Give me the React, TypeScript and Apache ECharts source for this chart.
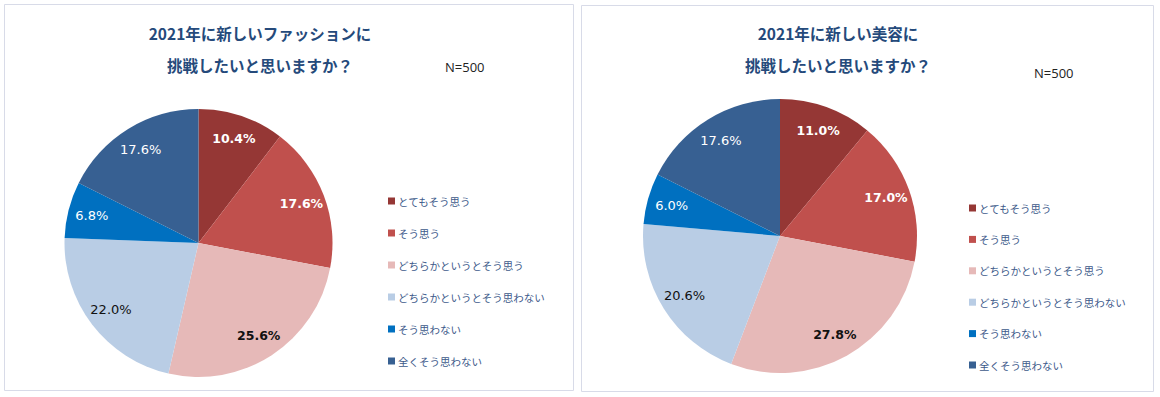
import React, { useEffect, useRef } from "react";
import * as echarts from "echarts";

const categories = [
  "とてもそう思う",
  "そう思う",
  "どちらかというとそう思う",
  "どちらかというとそう思わない",
  "そう思わない",
  "全くそう思わない",
];
const fashionValues = [10.4, 17.6, 25.6, 22.0, 6.8, 17.6];
const beautyValues = [11.0, 17.0, 27.8, 20.6, 6.0, 17.6];
const sliceColors = ["#953735", "#c0504d", "#e6b9b8", "#b9cde5", "#0070c0", "#376092"];
const labelColors = ["#ffffff", "#ffffff", "#111111", "#111111", "#ffffff", "#ffffff"];
const labelWeights = ["bold", "bold", "bold", "normal", "normal", "normal"];
const titleFashion = "2021年に新しいファッションに\n挑戦したいと思いますか？";
const titleBeauty = "2021年に新しい美容に\n挑戦したいと思いますか？";
const sampleText = "N=500";

const FONT = "'Noto Sans CJK JP', 'Noto Sans', sans-serif";
const NUMFONT = "'DejaVu Sans', Verdana, sans-serif";

function buildSeries(values: number[], center: [number, number], r: number) {
  const main = {
    type: "pie",
    center,
    radius: [0, r],
    startAngle: 90,
    clockwise: true,
    label: { show: false },
    labelLine: { show: false },
    silent: true,
    data: values.map((v, i) => ({
      name: categories[i],
      value: v,
      itemStyle: { color: sliceColors[i] },
    })),
  };
  const labels = {
    type: "pie",
    center,
    radius: [r * 0.6, r],
    startAngle: 90,
    clockwise: true,
    silent: true,
    legendHoverLink: false,
    itemStyle: { color: "rgba(0,0,0,0)" },
    labelLine: { show: false },
    data: values.map((v, i) => ({
      name: categories[i],
      value: v,
      itemStyle: { color: "rgba(0,0,0,0)" },
      label: {
        show: true,
        position: "inside",
        formatter: v.toFixed(1) + "%",
        color: labelColors[i],
        fontWeight: labelWeights[i],
        fontSize: labelWeights[i] === "bold" ? 12.5 : 13,
        fontFamily: NUMFONT,
      },
    })),
  };
  return [main, labels];
}

export default function App() {
  const ref = useRef<HTMLDivElement>(null);
  useEffect(() => {
    document.body.style.margin = "0";
    const chart = echarts.init(ref.current!, null, { renderer: "svg" });
    const legendCommon = {
      orient: "vertical",
      icon: "rect",
      itemWidth: 7,
      itemHeight: 7,
      itemGap: 18,
      selectedMode: false,
      textStyle: {
        color: "#3d5a8a",
        fontSize: 10.5,
        lineHeight: 14,
        fontFamily: FONT,
        padding: [0, 0, 0, -2],
      },
      data: categories,
    };
    const titleStyle = {
      color: "#254a7b",
      fontSize: 15.5,
      fontWeight: "bold",
      lineHeight: 32,
      fontFamily: FONT,
    };
    chart.setOption({
      animation: false,
      backgroundColor: "#ffffff",
      title: [
        {
          text: titleFashion,
          left: 260,
          top: 17,
          padding: 0,
          textAlign: "center",
          textStyle: titleStyle,
        },
        {
          text: titleBeauty,
          left: 838,
          top: 17,
          padding: 0,
          textAlign: "center",
          textStyle: titleStyle,
        },
      ],
      graphic: [
        {
          type: "rect",
          shape: { x: 4.5, y: 4.5, width: 569, height: 386 },
          style: { fill: "none", stroke: "#d8dbe8", lineWidth: 1 },
          z: -1,
        },
        {
          type: "rect",
          shape: { x: 581.5, y: 5.5, width: 572, height: 386 },
          style: { fill: "none", stroke: "#d8dbe8", lineWidth: 1 },
          z: -1,
        },
        {
          type: "text",
          x: 445,
          y: 67,
          style: {
            text: sampleText,
            fill: "#222222",
            fontSize: 13,
            fontFamily: "'Open Sans', 'Noto Sans', sans-serif",
            verticalAlign: "middle",
          },
        },
        {
          type: "text",
          x: 1034,
          y: 73,
          style: {
            text: sampleText,
            fill: "#222222",
            fontSize: 13,
            fontFamily: "'Open Sans', 'Noto Sans', sans-serif",
            verticalAlign: "middle",
          },
        },
      ],
      legend: [
        { ...legendCommon, left: 383, top: 189 },
        { ...legendCommon, left: 964, top: 196, itemGap: 17.4 },
      ],
      series: [
        ...buildSeries(fashionValues, [198.5, 243], 134),
        ...buildSeries(beautyValues, [780, 236], 137),
      ],
    });
    return () => chart.dispose();
  }, []);
  return <div ref={ref} style={{ width: 1160, height: 397 }} />;
}
